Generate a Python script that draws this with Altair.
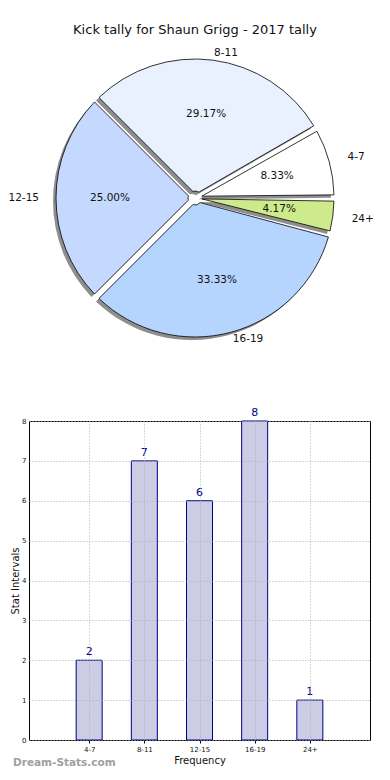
import math
import altair as alt
import pandas as pd

# ---- data ----
categories = ["4-7", "8-11", "12-15", "16-19", "24+"]
counts = [2, 7, 6, 8, 1]
percent_labels = ["8.33%", "29.17%", "25.00%", "33.33%", "4.17%"]
slice_colors = ["#ffffff", "#eaf1fe", "#c5d9fe", "#b5d5fe", "#cdeb8b"]
clockwise_order = [4, 3, 2, 1, 0]
bar_positions = [1, 2, 3, 4, 5]
y_ticks = [0, 1, 2, 3, 4, 5, 6, 7, 8]
title_text = "Kick tally for Shaun Grigg - 2017 tally"
watermark = "Dream-Stats.com"

df = pd.DataFrame({
    "label": categories,
    "count": counts,
    "pct": percent_labels,
    "order": clockwise_order,
    "pos": bar_positions,
})

FONT = "DejaVu Sans"
CX, CY = 166, 190
R = 139
INNER = 7
PAD = 0.045

theta = alt.Theta("count:Q", stack=True,
                  scale=alt.Scale(range=[math.pi / 2, math.pi / 2 + 2 * math.pi]))
order = alt.Order("order:Q")

pie_base = alt.Chart(df)

shadow = pie_base.mark_arc(outerRadius=R, innerRadius=INNER, padAngle=PAD,
                           fill="#8e8e8e").encode(
    theta=theta, order=order, x=alt.value(CX - 3), y=alt.value(CY + 3))

slices = pie_base.mark_arc(outerRadius=R, innerRadius=INNER, padAngle=PAD,
                           stroke="black", strokeWidth=0.8).encode(
    theta=theta, order=order, x=alt.value(CX), y=alt.value(CY),
    color=alt.Color("label:N", scale=alt.Scale(domain=categories, range=slice_colors),
                    legend=None))

pct_text = pie_base.mark_text(radius=85, fontSize=10.5, font=FONT, color="#111111",
                              baseline="middle").encode(
    theta=theta, order=order, x=alt.value(CX), y=alt.value(CY), text="pct:N")

left_names = [categories[2]]
side_names = [categories[0], categories[4]]
vert_names = [categories[1], categories[3]]


def label_layer(names, radius, align):
    test = " || ".join("datum.label == '" + n + "'" for n in names)
    return pie_base.mark_text(radius=radius, fontSize=10.5, font=FONT, color="#111111",
                              align=align, baseline="middle").encode(
        theta=theta, order=order, x=alt.value(CX), y=alt.value(CY),
        text=alt.condition(test, alt.Text("label:N"), alt.value("")))


label_left = label_layer(left_names, 156, "right")
label_side = label_layer(side_names, 158, "left")
label_vert = label_layer(vert_names, 146, "left")

title_layer = alt.Chart(pd.DataFrame({"t": [title_text]})).mark_text(
    fontSize=13, font=FONT, color="#111111", baseline="middle").encode(
    text="t:N", x=alt.value(CX), y=alt.value(22))

pie = alt.layer(shadow, slices, pct_text, label_left, label_side, label_vert,
                title_layer).properties(
    width=345, height=390,
    view=alt.ViewBackground(stroke="transparent", strokeWidth=0))

# ---- bar chart ----
BW, BH = 341, 319
label_expr = "[" + ",".join("'" + c + "'" for c in categories) + "][datum.value - 1]"

x_axis = alt.Axis(values=bar_positions, labelExpr=label_expr, title="Frequency",
                  grid=True, gridDash=[1, 2], gridColor="#b0b0b0",
                  domain=False, tickSize=3, tickColor="#000000",
                  labelFontSize=7, labelPadding=2, labelColor="#111111",
                  titleFontSize=10, titleFontWeight="normal", titlePadding=3,
                  titleColor="#111111", zindex=1)
y_axis = alt.Axis(values=y_ticks, title="Stat Intervals", labelOverlap=False,
                  grid=True, gridDash=[1, 2], gridColor="#b0b0b0",
                  domain=False, tickSize=0, tickColor="#000000",
                  labelFontSize=7, labelPadding=3, labelColor="#111111",
                  titleFontSize=10, titleFontWeight="normal", titlePadding=1,
                  titleColor="#111111", zindex=1)
x_scale = alt.Scale(domain=[0, 6])
y_scale = alt.Scale(domain=[0, 8])

bar_base = alt.Chart(df)
bars = bar_base.mark_bar(size=26, fill="#ccccE5", stroke="#000080", strokeWidth=1).encode(
    x=alt.X("pos:Q", scale=x_scale, axis=x_axis),
    y=alt.Y("count:Q", scale=y_scale, axis=y_axis))

bar_text = bar_base.mark_text(dy=-8, fontSize=11, font=FONT, color="#00008b",
                              baseline="middle").encode(
    x=alt.X("pos:Q", scale=x_scale, axis=x_axis),
    y=alt.Y("count:Q", scale=y_scale, axis=y_axis),
    text="count:Q")

wm = alt.Chart(pd.DataFrame({"t": [watermark]})).mark_text(
    fontSize=10.5, font=FONT, fontWeight="bold", color="#a0a0a0", align="left",
    baseline="middle").encode(text="t:N", x=alt.value(-16), y=alt.value(BH + 23))

bar_chart = alt.layer(bars, bar_text, wm).properties(
    width=BW, height=BH,
    view=alt.ViewBackground(stroke="black", strokeWidth=1))

chart = alt.concat(pie, bar_chart, columns=1, spacing=8, align="none").properties(
    padding={"left": 0, "top": 0, "right": 0, "bottom": 0}
).configure(font=FONT)

chart.save("out.html", embed_options={"renderer": "svg", "actions": False})
